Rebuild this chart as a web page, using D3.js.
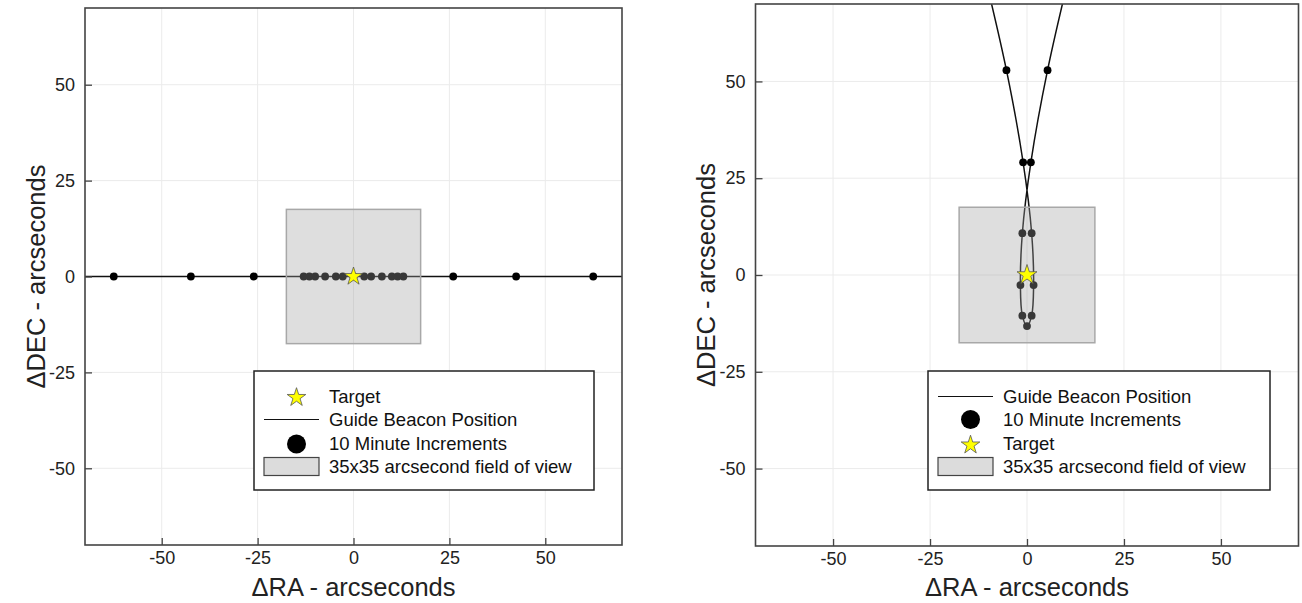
<!DOCTYPE html>
<html><head><meta charset="utf-8">
<script src="https://cdn.jsdelivr.net/npm/d3@7"></script>
<style>
html,body{margin:0;padding:0;background:#fff;}
svg{display:block;font-family:"Liberation Sans",Arial,sans-serif;}
</style></head>
<body>
<svg id="chart" width="1302" height="603"></svg>
<script>
// ---------- data ----------
const xTicks = [-50, -25, 0, 25, 50];
const yTicks = [-50, -25, 0, 25, 50];
const axisDomain = [-70, 70];

// Left panel: guide beacon trajectory (10‑minute positions), arcseconds
const leftRA  = [-82, -62.5, -42.4, -26, -13, -11.5, -10, -7.4, -4.6, -2.8, 0, 2.8, 4.6, 7.4, 10, 11.5, 13, 26, 42.4, 62.5, 82];
const leftDEC = [0, 0, 0, 0, 0, 0, 0, 0, 0, 0, 0, 0, 0, 0, 0, 0, 0, 0, 0, 0, 0];
const leftDotOnly = [false, true, true, true, true, true, true, true, true, true, true, true, true, true, true, true, true, true, true, true, false];

// Right panel: guide beacon trajectory (10‑minute positions), arcseconds
const rightRA  = [-12, -5.3, -1.0, 1.2, 1.7, 1.2, 0, -1.2, -1.7, -1.2, 1.0, 5.3, 12];
const rightDEC = [82, 52.9, 29.1, 10.8, -2.6, -10.5, -13.2, -10.5, -2.6, 10.8, 29.1, 52.9, 82];
const rightDotOnly = [false, true, true, true, true, true, true, true, true, true, true, true, false];

const target = [0, 0];
const fovSize = 35;

const xTitle = "\u0394RA - arcseconds";
const yTitle = "\u0394DEC - arcseconds";
const lblTarget = "Target";
const lblGuide = "Guide Beacon Position";
const lblDots = "10 Minute Increments";
const lblFov = "35x35 arcsecond field of view";
const leftLegendOrder = ["target", "guide", "dots", "fov"];
const rightLegendOrder = ["guide", "dots", "target", "fov"];

// ---------- drawing ----------
const svg = d3.select("#chart");

const panels = [
  {id: "L", x: 85, y: 8, w: 537, h: 537, ra: leftRA, dec: leftDEC, dots: leftDotOnly, starR: 9.5,
   legend: {x: 254, y: 371, w: 340, h: 119, order: leftLegendOrder}, yTitleX: 36},
  {id: "R", x: 755.5, y: 4, w: 543, h: 542, ra: rightRA, dec: rightDEC, dots: rightDotOnly, starR: 10.5,
   legend: {x: 928, y: 371, w: 342, h: 119, order: rightLegendOrder}, yTitleX: 706}
];

function starSize(R) { return R * R / 0.8908130915292852; }

panels.forEach(p => {
  const x = d3.scaleLinear().domain(axisDomain).range([p.x, p.x + p.w]);
  const y = d3.scaleLinear().domain(axisDomain).range([p.y + p.h, p.y]);
  const g = svg.append("g");

  g.append("clipPath").attr("id", "clip" + p.id)
    .append("rect").attr("x", p.x).attr("y", p.y).attr("width", p.w).attr("height", p.h);

  // grid
  g.append("g").selectAll("line").data(xTicks).join("line")
    .attr("x1", d => x(d)).attr("x2", d => x(d)).attr("y1", p.y).attr("y2", p.y + p.h)
    .attr("stroke", "#ebebeb").attr("stroke-width", 1);
  g.append("g").selectAll("line").data(yTicks).join("line")
    .attr("y1", d => y(d)).attr("y2", d => y(d)).attr("x1", p.x).attr("x2", p.x + p.w)
    .attr("stroke", "#ebebeb").attr("stroke-width", 1);

  const plot = g.append("g").attr("clip-path", `url(#clip${p.id})`);
  const pts = p.ra.map((r, i) => ({ra: r, dec: p.dec[i], dot: p.dots[i]}));

  // trajectory line
  const line = d3.line().x(d => x(d.ra)).y(d => y(d.dec)).curve(d3.curveCatmullRom.alpha(0.5));
  plot.append("path").datum(pts).attr("d", line)
    .attr("fill", "none").attr("stroke", "#111").attr("stroke-width", 1.5);

  // 10-minute dots
  plot.append("g").selectAll("circle").data(pts.filter(d => d.dot)).join("circle")
    .attr("cx", d => x(d.ra)).attr("cy", d => y(d.dec)).attr("r", 3.9).attr("fill", "#000");

  // field of view box (semi-transparent, on top of dots)
  plot.append("rect")
    .attr("x", x(target[0] - fovSize / 2)).attr("y", y(target[1] + fovSize / 2))
    .attr("width", x(fovSize / 2) - x(-fovSize / 2)).attr("height", y(-fovSize / 2) - y(fovSize / 2))
    .attr("fill", "rgb(160,160,160)").attr("fill-opacity", 0.35)
    .attr("stroke", "#a8a8a8").attr("stroke-width", 1.5);

  // target star
  plot.append("path")
    .attr("d", d3.symbol(d3.symbolStar, starSize(p.starR))())
    .attr("transform", `translate(${x(target[0])},${y(target[1])})`)
    .attr("fill", "#ffff00").attr("stroke", "#555").attr("stroke-width", 0.8);

  // axes
  const fmt = d => String(d);
  const ax = d3.axisBottom(x).tickValues(xTicks).tickFormat(fmt).tickSizeInner(-7).tickSizeOuter(0).tickPadding(6);
  const ay = d3.axisLeft(y).tickValues(yTicks).tickFormat(fmt).tickSizeInner(-7).tickSizeOuter(0).tickPadding(10);
  const gx = g.append("g").attr("transform", `translate(0,${p.y + p.h})`).call(ax);
  const gy = g.append("g").attr("transform", `translate(${p.x},0)`).call(ay);
  [gx, gy].forEach(a => {
    a.select(".domain").remove();
    a.selectAll(".tick line").attr("stroke", "#444").attr("stroke-width", 1.3);
    a.selectAll(".tick text").attr("fill", "#222").style("font-size", "18px")
      .style("font-family", "'Liberation Sans',Arial,sans-serif");
  });

  // frame
  g.append("rect").attr("x", p.x).attr("y", p.y).attr("width", p.w).attr("height", p.h)
    .attr("fill", "none").attr("stroke", "#444").attr("stroke-width", 1.6);

  // titles
  g.append("text").attr("x", p.x + p.w / 2).attr("y", 596).attr("text-anchor", "middle")
    .style("font-size", "25.5px").attr("fill", "#222").text(xTitle);
  g.append("text").attr("transform", `translate(${p.yTitleX},${p.y + p.h / 2}) rotate(-90)`)
    .attr("dy", "0.35em").attr("text-anchor", "middle")
    .style("font-size", "25.5px").attr("fill", "#222").text(yTitle);

  // legend
  const L = p.legend;
  const lg = g.append("g");
  lg.append("rect").attr("x", L.x).attr("y", L.y).attr("width", L.w).attr("height", L.h)
    .attr("fill", "#fff").attr("stroke", "#222").attr("stroke-width", 1.5);
  const rowY = [25.5, 48.5, 73, 95.5];
  const symX0 = L.x + 10, symX1 = L.x + 65, symC = L.x + 42.5, txtX = L.x + 75;
  const labels = {target: lblTarget, guide: lblGuide, dots: lblDots, fov: lblFov};
  L.order.forEach((k, i) => {
    const cy = L.y + rowY[i];
    if (k === "target") {
      lg.append("path").attr("d", d3.symbol(d3.symbolStar, starSize(9.8))())
        .attr("transform", `translate(${symC},${cy + 1})`)
        .attr("fill", "#ffff00").attr("stroke", "#555").attr("stroke-width", 0.8);
    } else if (k === "guide") {
      lg.append("line").attr("x1", symX0).attr("x2", symX1).attr("y1", cy).attr("y2", cy)
        .attr("stroke", "#111").attr("stroke-width", 1.2);
    } else if (k === "dots") {
      lg.append("circle").attr("cx", symC).attr("cy", cy).attr("r", 9.5).attr("fill", "#000");
    } else {
      lg.append("rect").attr("x", symX0).attr("y", cy - 9).attr("width", symX1 - symX0).attr("height", 18)
        .attr("fill", "#dcdcdc").attr("stroke", "#444").attr("stroke-width", 1.2);
    }
    lg.append("text").attr("x", txtX).attr("y", cy).attr("dy", "0.35em")
      .style("font-size", "18.5px").attr("fill", "#111").text(labels[k]);
  });
});
</script>
</body></html>
